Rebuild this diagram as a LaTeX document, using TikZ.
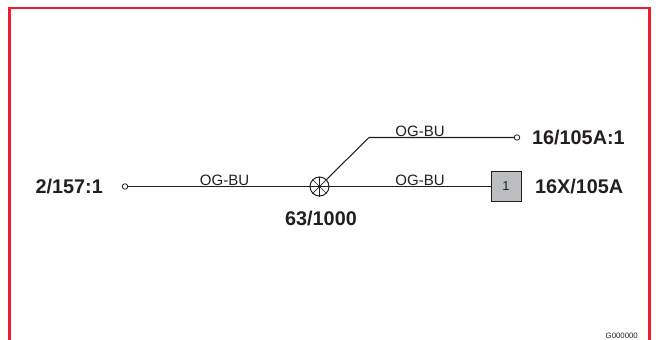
\documentclass[tikz,border=0pt]{standalone}
\usepackage{fontspec}
\setmainfont{Liberation Sans}
\definecolor{inkc}{HTML}{231F20}
\definecolor{framec}{HTML}{ED1C2E}
\definecolor{boxc}{HTML}{BCBDC0}
\tikzset{
  wire/.style={draw=inkc,line width=1.05pt},
  term/.style={circle,draw=inkc,line width=0.8pt,fill=white,minimum size=5.5pt,inner sep=0pt},
  lampc/.style={circle,draw=inkc,line width=1pt,fill=white,minimum size=19pt,inner sep=0pt},
  conn/.style={rectangle,draw=inkc,line width=1pt,fill=boxc,minimum size=30pt,inner sep=0pt,text=inkc,font=\fontsize{13}{13}\selectfont},
  wlabel/.style={text=inkc,inner sep=0pt,font=\fontsize{15}{15}\selectfont},
  tag/.style={text=inkc,inner sep=0pt,font=\fontsize{19.8}{19.8}\selectfont\bfseries},
}
\begin{document}
\begin{tikzpicture}[x=1pt,y=-1pt]
\useasboundingbox (0,0) rectangle (656,340);
\fill[white] (0,0) rectangle (656,340);
\draw[framec,line width=2.4pt] (9.5,340) -- (9.5,8) -- (649.5,8) -- (649.5,340);
\node[term] (a) at (125,186.5) {};
\node[lampc] (l) at (319.5,186.5) {};
\node[term] (b) at (517,137.5) {};
\node[conn] (c) at (506,186.5) {1};
\coordinate (bend) at (369,137.5);
\draw[wire] (a) -- (l);
\draw[wire] (l) -- (c);
\draw[wire] (l.45) -- (bend) -- (b);
\foreach \ang in {0,45,90,135}{
  \draw[draw=inkc,line width=0.7pt] (l.\ang) -- (l.\ang+180);
}
\fill[inkc] (l.center) circle (1.6pt);
\node[wlabel,anchor=base] (t1) at (224.5,185) {OG-BU};
\node[wlabel,anchor=base] (t2) at (420,136) {OG-BU};
\node[wlabel,anchor=base] (t3) at (420,185) {OG-BU};
\node[tag,anchor=base west] (n1) at (35.5,193.5) {2/157:1};
\node[tag,anchor=base] (n2) at (321,225) {63/1000};
\node[tag,anchor=base west] (n3) at (532,144.5) {16/105A:1};
\node[tag,anchor=base west] (n4) at (535,193.5) {16X/105A};
\node[text=inkc,inner sep=0pt,anchor=base east,font=\fontsize{7.8}{7.8}\selectfont] (g) at (638,338.6) {G000000};
\end{tikzpicture}
\end{document}
